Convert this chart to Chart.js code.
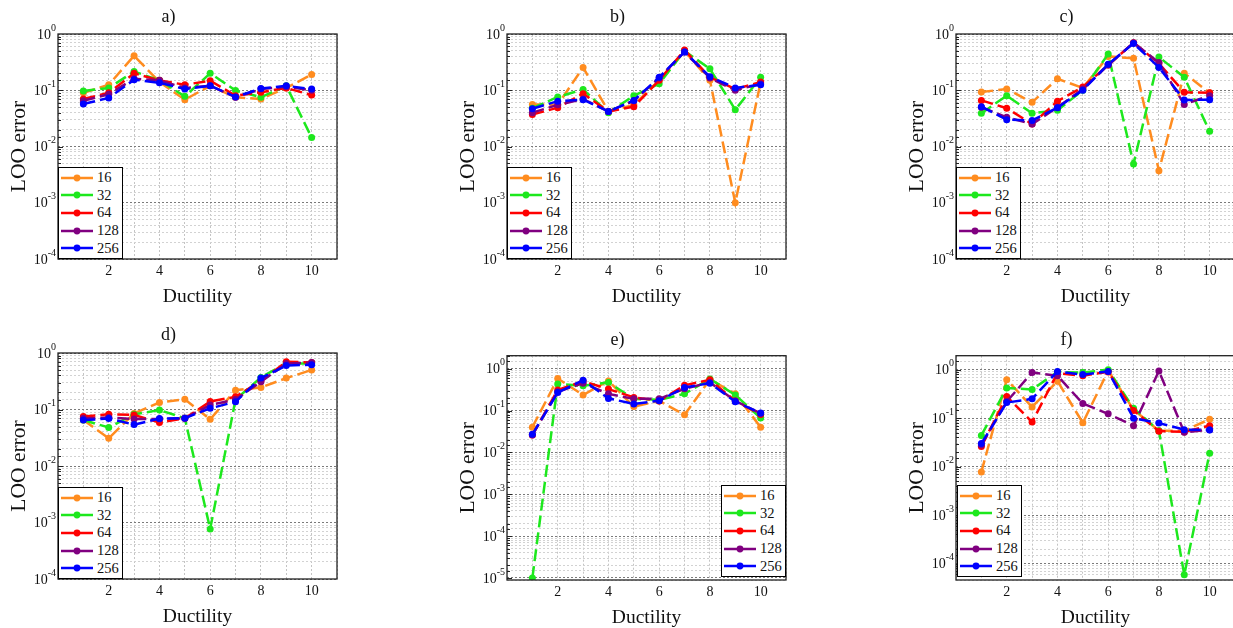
<!DOCTYPE html>
<html>
<head>
<meta charset="utf-8">
<script src="https://cdn.jsdelivr.net/npm/chart.js@4.4.1/dist/chart.umd.min.js"></script>
<style>
  html, body { margin: 0; padding: 0; background: #fff; }
  body { width: 1233px; height: 628px; overflow: hidden; position: relative;
         font-family: 'Liberation Serif', 'Times New Roman', serif; }
  canvas { position: absolute; }
  .leyenda { position: absolute; background: #fff; border: 1px solid #000;
             padding: 1px 3px 1px 2px; font-size: 14.5px; color: #111; }
  .leyenda div { display: flex; align-items: center; height: 17.6px; }
  .leyenda svg { margin-right: 4px; }
</style>
</head>
<body>
<canvas id="panel-a"></canvas>
<canvas id="panel-b"></canvas>
<canvas id="panel-c"></canvas>
<canvas id="panel-d"></canvas>
<canvas id="panel-e"></canvas>
<canvas id="panel-f"></canvas>
<script>
// Ductilidad 1..10 y etiquetas de cada serie
const DUCTILIDAD = [1, 2, 3, 4, 5, 6, 7, 8, 9, 10];
const SERIES = ['16', '32', '64', '128', '256'];
const COLORES = ['#ff8c1f', '#1de81d', '#ff0000', '#800080', '#0000ff'];
const TICKS_X = [2, 4, 6, 8, 10];

// a)
const A16  = [0.09, 0.125, 0.41, 0.14, 0.068, 0.12, 0.075, 0.07, 0.11, 0.19];
const A32  = [0.097, 0.11, 0.215, 0.15, 0.078, 0.2, 0.099, 0.075, 0.12, 0.0144];
const A64  = [0.07, 0.09, 0.2, 0.15, 0.125, 0.148, 0.08, 0.092, 0.11, 0.082];
const A128 = [0.065, 0.085, 0.16, 0.15, 0.11, 0.12, 0.075, 0.105, 0.115, 0.1];
const A256 = [0.057, 0.073, 0.154, 0.136, 0.105, 0.12, 0.076, 0.107, 0.12, 0.105];
// b)
const B16  = [0.056, 0.055, 0.255, 0.042, 0.055, 0.15, 0.5, 0.15, 0.001, 0.14];
const B32  = [0.048, 0.076, 0.103, 0.04, 0.08, 0.13, 0.5, 0.24, 0.045, 0.17];
const B64  = [0.037, 0.049, 0.087, 0.042, 0.051, 0.15, 0.52, 0.17, 0.105, 0.14];
const B128 = [0.04, 0.055, 0.07, 0.042, 0.065, 0.165, 0.48, 0.165, 0.1, 0.13];
const B256 = [0.047, 0.064, 0.068, 0.042, 0.066, 0.17, 0.48, 0.174, 0.11, 0.125];
// c)
const C16  = [0.093, 0.105, 0.061, 0.16, 0.11, 0.4, 0.37, 0.0037, 0.2, 0.09];
const C32  = [0.039, 0.08, 0.039, 0.044, 0.1, 0.44, 0.0049, 0.39, 0.17, 0.0186];
const C64  = [0.066, 0.048, 0.025, 0.064, 0.114, 0.28, 0.7, 0.3, 0.092, 0.09];
const C128 = [0.05, 0.033, 0.025, 0.05, 0.105, 0.28, 0.7, 0.31, 0.056, 0.08];
const C256 = [0.051, 0.03, 0.029, 0.049, 0.1, 0.29, 0.68, 0.255, 0.067, 0.068];
// d)
const D16  = [0.065, 0.031, 0.085, 0.133, 0.152, 0.067, 0.22, 0.245, 0.36, 0.5];
const D32  = [0.065, 0.048, 0.082, 0.098, 0.07, 0.00077, 0.15, 0.37, 0.65, 0.65];
const D64  = [0.075, 0.082, 0.08, 0.059, 0.07, 0.138, 0.168, 0.32, 0.7, 0.68];
const D128 = [0.07, 0.072, 0.068, 0.068, 0.07, 0.12, 0.15, 0.31, 0.65, 0.68];
const D256 = [0.065, 0.069, 0.054, 0.069, 0.07, 0.105, 0.137, 0.36, 0.6, 0.62];
// e)
const E16  = [0.04, 0.58, 0.235, 0.51, 0.124, 0.17, 0.079, 0.55, 0.25, 0.04];
const E32  = [0.00001, 0.43, 0.39, 0.47, 0.19, 0.18, 0.25, 0.57, 0.235, 0.066];
const E64  = [0.026, 0.31, 0.5, 0.325, 0.206, 0.17, 0.4, 0.54, 0.17, 0.08];
const E128 = [0.026, 0.28, 0.45, 0.25, 0.19, 0.19, 0.33, 0.47, 0.17, 0.085];
const E256 = [0.027, 0.27, 0.53, 0.195, 0.144, 0.172, 0.355, 0.45, 0.163, 0.087];
// f)
const F16  = [0.0078, 0.62, 0.17, 0.58, 0.08, 0.95, 0.15, 0.055, 0.055, 0.095];
const F32  = [0.044, 0.42, 0.39, 0.9, 0.87, 1.0, 0.16, 0.055, 0.000059, 0.019];
const F64  = [0.026, 0.28, 0.083, 0.85, 0.75, 0.9, 0.144, 0.054, 0.052, 0.07];
const F128 = [0.028, 0.22, 0.87, 0.75, 0.2, 0.123, 0.07, 0.94, 0.051, 0.058];
const F256 = [0.03, 0.21, 0.25, 0.92, 0.79, 0.92, 0.1, 0.079, 0.058, 0.057];

const FUENTE = "'Liberation Serif', 'Times New Roman', serif";
const ANCHO_EJE_Y = 58;
const ALTO_EJE_X = 55;
const ANCHO_PLOT = 279;

const paneles = [
  { id: 'a', left: 0,   top: 0,   plotTop: 34,   plotH: 225,   tituloY: 17.3, yMin: 1e-4,   yMax: 1,    leyenda: 'izq', dy: 0, datos: [A16, A32, A64, A128, A256] },
  { id: 'b', left: 449, top: 0,   plotTop: 34,   plotH: 225,   tituloY: 17.3, yMin: 1e-4,   yMax: 1,    leyenda: 'izq', dy: 0, datos: [B16, B32, B64, B128, B256] },
  { id: 'c', left: 898, top: 0,   plotTop: 34,   plotH: 225,   tituloY: 17.3, yMin: 1e-4,   yMax: 1,    leyenda: 'izq', dy: 0, datos: [C16, C32, C64, C128, C256] },
  { id: 'd', left: 0,   top: 318, plotTop: 35,   plotH: 225.7, tituloY: 17.3, yMin: 1e-4,   yMax: 1,    leyenda: 'izq', dy: 0, datos: [D16, D32, D64, D128, D256] },
  { id: 'e', left: 449, top: 318, plotTop: 37.7, plotH: 224.4, tituloY: 22.7, yMin: 8.95e-6, yMax: 2.04, leyenda: 'der', dy: 3, datos: [E16, E32, E64, E128, E256] },
  { id: 'f', left: 898, top: 318, plotTop: 37.7, plotH: 224.4, tituloY: 22.7, yMin: 4.6e-5, yMax: 1.94, leyenda: 'izq', dy: 3, datos: [F16, F32, F64, F128, F256] }
];

function esDecada(v) {
  const l = Math.log10(v);
  return Math.abs(l - Math.round(l)) < 1e-6;
}

// marco negro, marcas interiores y etiquetas 10^n con exponente elevado
const marco = {
  id: 'marco',
  afterDraw(chart) {
    const { ctx, chartArea: ca, scales } = chart;
    const y = scales.y;
    ctx.save();
    ctx.strokeStyle = '#222';
    ctx.lineWidth = 1;
    y.ticks.forEach(t => {
      if (t.value <= y.min || t.value >= y.max) return;
      const py = Math.round(y.getPixelForValue(t.value)) + 0.5;
      const largo = esDecada(t.value) ? 5 : 3;
      ctx.beginPath();
      ctx.moveTo(ca.left, py);
      ctx.lineTo(ca.left + largo, py);
      ctx.stroke();
    });
    ctx.lineWidth = 1.3;
    ctx.strokeRect(ca.left, ca.top, ca.right - ca.left, ca.bottom - ca.top);

    ctx.fillStyle = '#111';
    ctx.textBaseline = 'middle';
    ctx.textAlign = 'right';
    y.ticks.filter(t => esDecada(t.value)).forEach(t => {
      const py = y.getPixelForValue(t.value);
      const exp = String(Math.round(Math.log10(t.value)));
      ctx.font = '10px ' + FUENTE;
      const we = ctx.measureText(exp).width;
      ctx.fillText(exp, ca.left - 2, py - 6);
      ctx.font = '14px ' + FUENTE;
      ctx.fillText('10', ca.left - 2 - we, py + 1);
    });
    ctx.restore();
  }
};

function crearLeyenda(p, chart) {
  const caja = document.createElement('div');
  caja.className = 'leyenda';
  chart.data.datasets.forEach(ds => {
    const fila = document.createElement('div');
    fila.innerHTML = `<svg width="32" height="10"><line x1="0" y1="5" x2="32" y2="5" stroke="${ds.borderColor}" stroke-width="2.5" stroke-dasharray="13 6"/><circle cx="16" cy="5" r="3.4" fill="${ds.borderColor}"/></svg><span>${ds.label}</span>`;
    caja.appendChild(fila);
  });
  document.body.appendChild(caja);
  const ca = chart.chartArea;
  caja.style.top = (p.top + ca.bottom - caja.offsetHeight - p.dy) + 'px';
  if (p.leyenda === 'der') {
    caja.style.left = (p.left + ca.right - caja.offsetWidth) + 'px';
  } else {
    caja.style.left = (p.left + ca.left + (p.dy ? 1 : 0)) + 'px';
  }
}

paneles.forEach(p => {
  const canvas = document.getElementById('panel-' + p.id);
  const ancho = 400;
  const alto = Math.round(p.plotTop + p.plotH + ALTO_EJE_X);
  canvas.width = ancho;
  canvas.height = alto;
  canvas.style.left = p.left + 'px';
  canvas.style.top = p.top + 'px';

  const datasets = p.datos.map((serie, i) => ({
    label: SERIES[i],
    data: serie.map((v, j) => ({ x: DUCTILIDAD[j], y: v })),
    borderColor: COLORES[i],
    backgroundColor: COLORES[i],
    pointBackgroundColor: COLORES[i],
    borderWidth: 2.5,
    borderDash: [12, 5],
    pointRadius: 3.5,
    pointBorderWidth: 0,
    tension: 0,
    order: SERIES.length - 1 - i
  }));

  const chart = new Chart(canvas, {
    type: 'line',
    data: { datasets },
    plugins: [marco],
    options: {
      responsive: false,
      animation: false,
      layout: { padding: { left: 0, right: ancho - ANCHO_EJE_Y - ANCHO_PLOT, top: 0, bottom: 0 } },
      plugins: {
        legend: { display: false },
        tooltip: { enabled: false },
        title: {
          display: true,
          text: p.id + ')',
          color: '#111',
          font: { family: FUENTE, size: 18, weight: 'normal', lineHeight: 1.2 },
          padding: { top: p.tituloY - 10.8, bottom: p.plotTop - p.tituloY - 10.8 }
        }
      },
      scales: {
        x: {
          type: 'linear',
          min: 0,
          max: 11,
          afterFit: s => { s.height = ALTO_EJE_X; },
          ticks: {
            stepSize: 1,
            autoSkip: false,
            maxRotation: 0,
            padding: 4,
            color: '#111',
            font: { family: FUENTE, size: 14 },
            callback: v => TICKS_X.includes(v) ? String(v) : ''
          },
          grid: { color: '#c4c4c4', lineWidth: 1, drawTicks: false },
          border: { display: false, dash: [2, 2] },
          title: {
            display: true,
            text: 'Ductility',
            color: '#111',
            font: { family: FUENTE, size: 19.5 },
            padding: { top: 0, bottom: 5 }
          }
        },
        y: {
          type: 'logarithmic',
          min: p.yMin,
          max: p.yMax,
          afterFit: s => { s.width = ANCHO_EJE_Y; },
          ticks: { display: false },
          grid: {
            drawTicks: false,
            lineWidth: 1,
            color: c => (c.tick && esDecada(c.tick.value)) ? '#7a7a7a' : '#d2d2d2'
          },
          border: { display: false, dash: [2, 2] },
          title: {
            display: true,
            text: 'LOO error',
            color: '#111',
            font: { family: FUENTE, size: 21.5 },
            padding: { top: 6, bottom: 0 }
          }
        }
      }
    }
  });

  crearLeyenda(p, chart);
});
</script>
</body>
</html>
